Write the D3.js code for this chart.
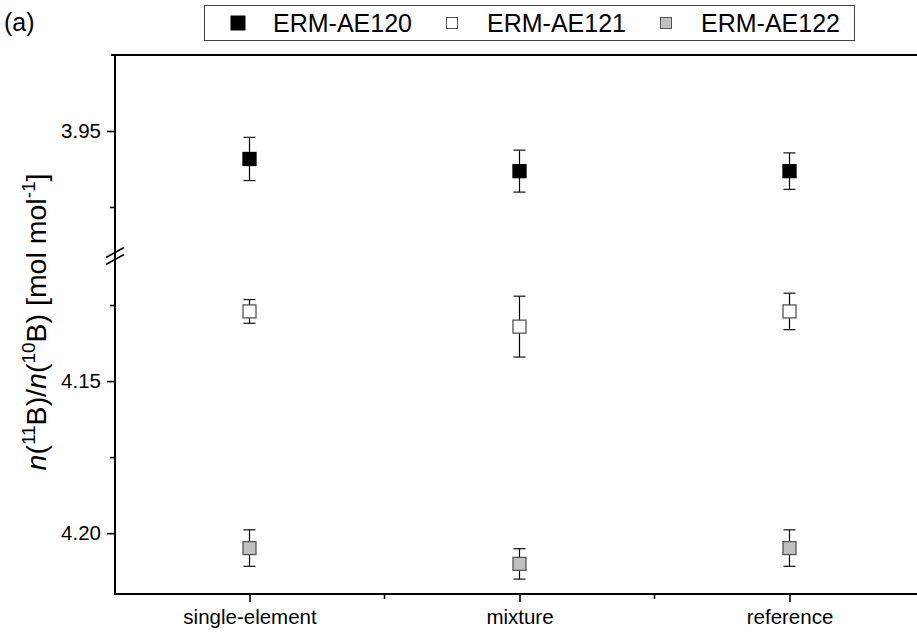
<!DOCTYPE html>
<html><head><meta charset="utf-8">
<script src="https://cdn.jsdelivr.net/npm/d3@7"></script>
<style>body{margin:0;background:#fff}svg{display:block}text{font-family:Arial,"Liberation Sans",sans-serif}</style>
</head><body><svg id="c" width="917" height="634"></svg>
<script>
const categories = ["single-element", "mixture", "reference"];
const seriesNames = ["ERM-AE120", "ERM-AE121", "ERM-AE122"];
const valuesAE120 = [3.9592, 3.9632, 3.9632];
const errorsAE120 = [0.0071, 0.0069, 0.0060];
const valuesAE121 = [4.1271, 4.1321, 4.1271];
const errorsAE121 = [0.0039, 0.0100, 0.0060];
const valuesAE122 = [4.2049, 4.2101, 4.2049];
const errorsAE122 = [0.0060, 0.0050, 0.0060];
const fills = ["#000000", "#ffffff", "#c0c0c0"];
const topMajorTicks = [3.95];
const topMinorTicks = [3.975];
const botMajorTicks = [4.15, 4.20];
const botMinorTicks = [4.125, 4.175];

const svg = d3.select("#c");
const L = 115, T = 55, B = 594;
const x = d3.scalePoint().domain(categories).range([249.5, 789.5]);
const step = x.step();
const yTop = d3.scaleLinear().domain([3.925, 3.99]).range([T, 252.6]);
const yBot = d3.scaleLinear().domain([4.11, 4.22]).range([259.4, B]);
const y = v => v < 4.05 ? yTop(v) : yBot(v);

const series = [
  {name: seriesNames[0], v: valuesAE120, e: errorsAE120, fill: fills[0]},
  {name: seriesNames[1], v: valuesAE121, e: errorsAE121, fill: fills[1]},
  {name: seriesNames[2], v: valuesAE122, e: errorsAE122, fill: fills[2]}
];

// axes
const axG = svg.append("g");
function yAxis(scale, major, minor) {
  const g1 = axG.append("g").attr("transform", `translate(${L},0)`)
    .call(d3.axisLeft(scale).tickValues(major).tickFormat(d3.format(".2f")).tickSize(8).tickPadding(6));
  g1.select(".domain").remove();
  g1.selectAll("line").attr("stroke", "#000").attr("stroke-width", 1.6);
  g1.selectAll("text").attr("font-size", 20.5).attr("fill", "#000");
  const g2 = axG.append("g").attr("transform", `translate(${L},0)`)
    .call(d3.axisLeft(scale).tickValues(minor).tickFormat("").tickSize(5));
  g2.select(".domain").remove();
  g2.selectAll("line").attr("stroke", "#000").attr("stroke-width", 1.6);
}
yAxis(yTop, topMajorTicks, topMinorTicks);
yAxis(yBot, botMajorTicks, botMinorTicks);

// x axis
const xs = d3.scaleLinear().domain([-0.5, 2.5]).range([x(categories[0]) - step/2, x(categories[2]) + step/2]);
const gx = axG.append("g").attr("transform", `translate(0,${B})`)
  .call(d3.axisBottom(x).tickSize(8).tickPadding(7));
gx.select(".domain").remove();
gx.selectAll("line").attr("stroke", "#000").attr("stroke-width", 1.6);
gx.selectAll("text").attr("font-size", 20.5).attr("fill", "#000");
axG.append("g").attr("transform", `translate(0,${B})`)
  .selectAll("line").data([0.5, 1.5]).join("line")
  .attr("x1", d => xs(d)).attr("x2", d => xs(d)).attr("y1", 0).attr("y2", 5)
  .attr("stroke", "#000").attr("stroke-width", 1.6);

// frame lines
axG.append("line").attr("x1", L).attr("x2", L).attr("y1", T - 1).attr("y2", B + 1).attr("stroke", "#000").attr("stroke-width", 2);
axG.append("line").attr("x1", L - 1).attr("x2", 930).attr("y1", B).attr("y2", B).attr("stroke", "#000").attr("stroke-width", 2);
axG.append("line").attr("x1", L - 4).attr("x2", 930).attr("y1", T).attr("y2", T).attr("stroke", "#000").attr("stroke-width", 2);
// break marks
const bm = (yTop.range()[1] + yBot.range()[0]) / 2;
[-3.5, 3.5].forEach(o => {
  axG.append("line").attr("x1", L - 9).attr("x2", L + 9).attr("y1", bm + o + 5).attr("y2", bm + o - 5)
    .attr("stroke", "#000").attr("stroke-width", 1.6);
});

// error bars and markers
const cap = 6, ms = 13;
series.forEach(s => {
  const g = svg.append("g");
  categories.forEach((c, i) => {
    const cx = x(c), v = s.v[i], e = s.e[i];
    g.append("line").attr("x1", cx).attr("x2", cx).attr("y1", y(v - e)).attr("y2", y(v + e)).attr("stroke", "#000").attr("stroke-width", 1.2);
    [v - e, v + e].forEach(w => g.append("line").attr("x1", cx - cap).attr("x2", cx + cap).attr("y1", y(w)).attr("y2", y(w)).attr("stroke", "#222").attr("stroke-width", 1.3));
    g.append("rect").attr("x", cx - ms/2).attr("y", y(v) - ms/2).attr("width", ms).attr("height", ms)
      .attr("fill", s.fill).attr("stroke", s.fill === "#000000" ? "#000" : "#555").attr("stroke-width", 1.3);
  });
});

// y title
const tt = svg.append("text").attr("transform", "translate(46,322) rotate(-90)").attr("text-anchor", "middle")
  .attr("font-size", 28.5).attr("fill", "#000");
tt.append("tspan").attr("font-style", "italic").text("n");
tt.append("tspan").text("(");
tt.append("tspan").attr("font-size", 19).attr("dy", -11).text("11");
tt.append("tspan").attr("dy", 11).text("B)/");
tt.append("tspan").attr("font-style", "italic").text("n");
tt.append("tspan").text("(");
tt.append("tspan").attr("font-size", 19).attr("dy", -11).text("10");
tt.append("tspan").attr("dy", 11).text("B) [mol mol");
tt.append("tspan").attr("font-size", 19).attr("dy", -11).text("-1");
tt.append("tspan").attr("dy", 11).text("]");

// panel label
svg.append("text").attr("x", 4).attr("y", 31).attr("font-size", 25).attr("fill", "#000").text("(a)");

// legend
svg.append("rect").attr("x", 204.5).attr("y", 5.5).attr("width", 650).attr("height", 35).attr("fill", "#fff").attr("stroke", "#444").attr("stroke-width", 1);
const lx = [238, 452, 666];
series.forEach((s, i) => {
  const sz = i === 0 ? 14 : 11;
  svg.append("rect").attr("x", lx[i] - sz/2).attr("y", 23 - sz/2).attr("width", sz).attr("height", sz)
    .attr("fill", s.fill).attr("stroke", i === 0 ? "#000" : "#555").attr("stroke-width", 1);
  svg.append("text").attr("x", lx[i] + 35).attr("y", 32).attr("font-size", 25).attr("fill", "#000").text(s.name);
});
</script></body></html>
